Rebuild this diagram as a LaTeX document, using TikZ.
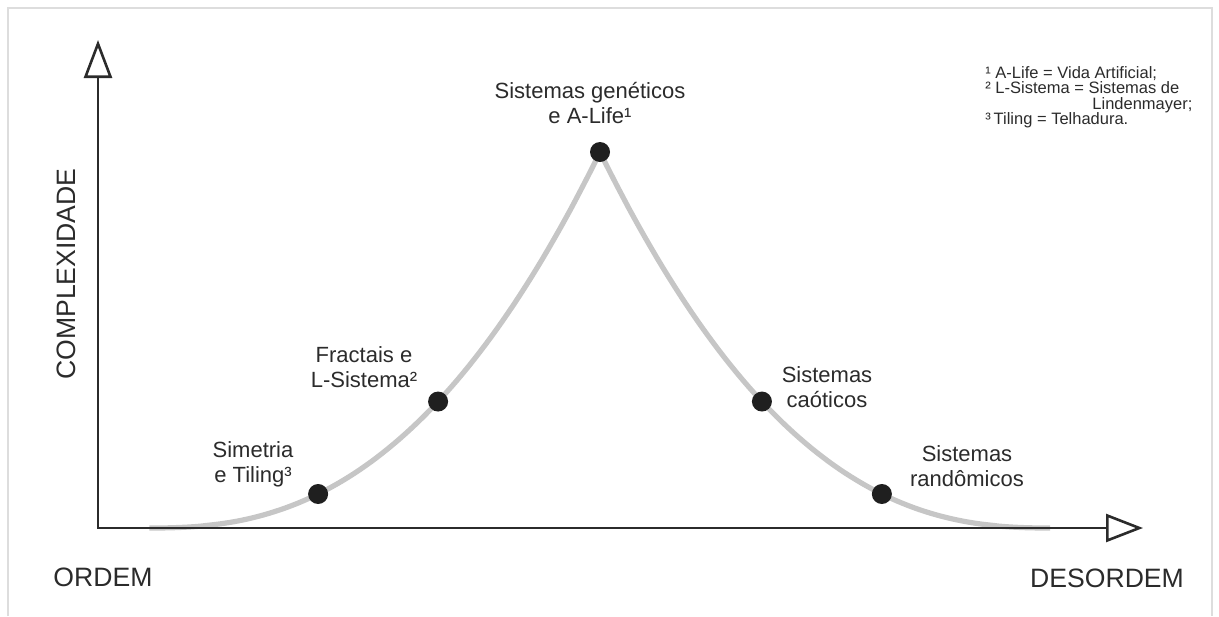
\documentclass[tikz,border=0pt]{standalone}
\usepackage{fontspec}
\setmainfont{Liberation Sans}
\usepackage{xcolor}
\usetikzlibrary{arrows.meta}

\definecolor{inkgray}{HTML}{2B2B2B}
\definecolor{curvegray}{HTML}{C6C6C6}
\definecolor{framegray}{HTML}{DDDDDD}
\setlength{\lineskiplimit}{-5pt}

\begin{document}
\begin{tikzpicture}[
    x=0.5pt, y=-0.5pt,
    lbl/.style={align=center, text=inkgray, inner sep=0pt,
                font=\fontsize{11}{12.5}\selectfont},
    axlbl/.style={text=inkgray, inner sep=0pt, font=\fontsize{13.3}{15}\selectfont},
    dot/.style={circle, fill=black!88, minimum size=10pt, inner sep=0pt},
    axis/.style={{Triangle[open, length=19pt, width=14pt]}-{Triangle[open, length=18.5pt, width=14pt]},
                 line width=1.3pt, draw=inkgray, line join=miter},
    curve/.style={line width=2.6pt, draw=curvegray, line join=round},
  ]
  \useasboundingbox (0,0) rectangle (1219,616);
  % Light frame round the figure
  \draw[framegray, line width=0.8pt] (8,616) -- (8,8) -- (1212,8) -- (1212,616);

  % Complexity curve (rises to a cusp, then falls back)
  \draw[curve] plot[domain=0.001:1, samples=80] ({149+451*\x},{528-376*\x^2.45})
            -- plot[domain=1:0.001, samples=80] ({1051-451*\x},{528-376*\x^2.45});

  % Axes
  \coordinate (origin) at (98,528);
  \coordinate (ytip) at (98,40);
  \coordinate (xtip) at (1143,528);
  \draw[axis] (ytip) -- (origin) -- (xtip);

  % Points on the curve
  \node[dot] (simet) at ({149+451*0.375},{528-376*0.375^2.45}) {};
  \node[dot] (fract) at ({149+451*0.641},{528-376*0.641^2.45}) {};
  \node[dot] (genet) at (600,152) {};
  \node[dot] (caot) at ({1051-451*0.641},{528-376*0.641^2.45}) {};
  \node[dot] (rand) at ({1051-451*0.375},{528-376*0.375^2.45}) {};

  % Labels
  \node[lbl] (genetlbl) at (590,103) {Sistemas genéticos\\e A-Life¹};
  \node[lbl] (fractlbl) at (364,367) {Fractais e\\L-Sistema²};
  \node[lbl] (simetlbl) at (253,464) {Simetria\\e Tiling³};
  \node[lbl] (caotlbl) at (827,387) {Sistemas\\caóticos};
  \node[lbl] (randlbl) at (967,466) {Sistemas\\randômicos};

  % Axis names
  \node[axlbl, anchor=base] (ordem) at (103,586) {ORDEM};
  \node[axlbl, anchor=base] (desordem) at (1107,587) {DESORDEM};
  \node[axlbl, anchor=base, rotate=90] (complex) at (75,274) {COMPLEXIDADE};

  % Notes
  \node[anchor=north west, align=left, inner sep=0pt, text=inkgray,
        font=\fontsize{8.25}{7.75}\selectfont] (notes) at (985,66)
        {¹ A-Life = Vida Artificial;\\
         ² L-Sistema = Sistemas de\\
         \hspace*{53.5pt}Lindenmayer;\\
         ³\,Tiling = Telhadura.};
\end{tikzpicture}
\end{document}
